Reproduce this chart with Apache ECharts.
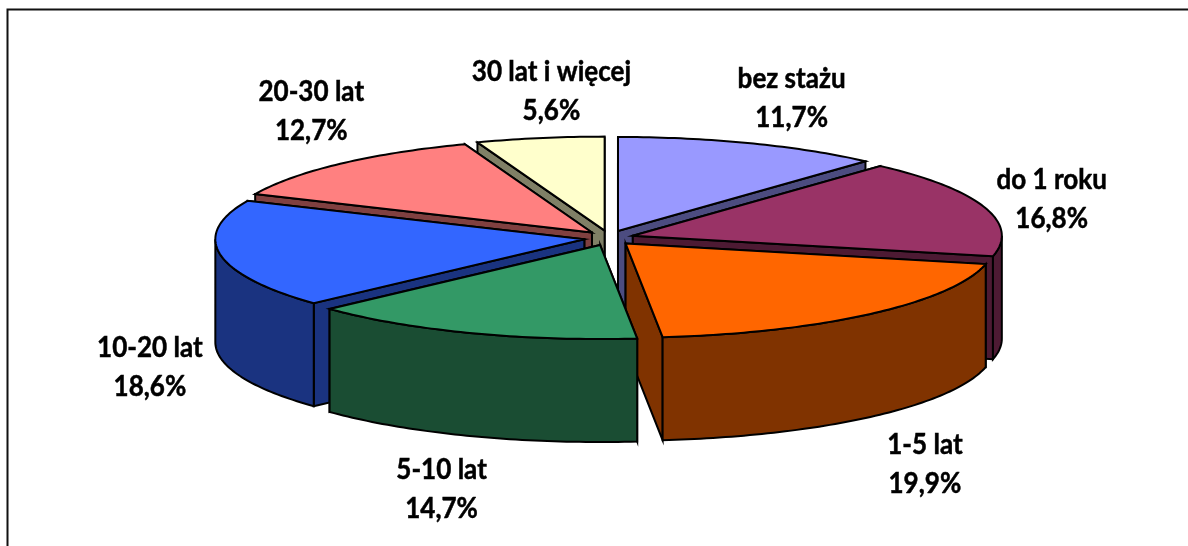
<!DOCTYPE html>
<html>
<head>
<meta charset="utf-8">
<style>
	html, body { margin: 0; padding: 0; background: #fff; }
	#chart { width: 1188px; height: 546px; }
</style>
</head>
<body>
<div id="chart"></div>
<script src="https://cdn.jsdelivr.net/npm/echarts@6/dist/echarts.min.js"></script>
<script>
	var categories = ['bez stażu', 'do 1 roku', '1-5 lat', '5-10 lat', '10-20 lat', '20-30 lat', '30 lat i więcej'];
	var percents = [11.7, 16.8, 19.9, 14.7, 18.6, 12.7, 5.6];
	var percentLabels = ['11,7%', '16,8%', '19,9%', '14,7%', '18,6%', '12,7%', '5,6%'];
	var topColors = ['#9999FF', '#993366', '#FF6600', '#339966', '#3366FF', '#FF8080', '#FFFFCC'];
	var sideColors = ['#4C4C80', '#4D1A33', '#803300', '#1A4D33', '#1A3380', '#804040', '#808066'];
	// label shift from the rim point of each slice
	var labelShifts = [[50, -52], [91, -10], [71, 156], [-37, 164], [-95, 114], [-46, -58], [7, -54]];

	// projection of the tilted pie
	var cx = 609, cy = 238, rx = 369, ry = 94, depth = 103;
	var explodeX = 25, explodeY = 7.5;

	var total = percents.reduce(function(a, b) { return a + b; }, 0);
	var slices = [];
	var sum = 0;
	percents.forEach(function(val, i) {
		var start = sum / total * 360;
		sum += val;
		var end = sum / total * 360;
		slices.push({ index: i, start: start, end: end, mid: (start + end) / 2 });
	});
	// back slices are painted first
	slices.sort(function(a, b) {
		return Math.cos(b.mid * Math.PI / 180) - Math.cos(a.mid * Math.PI / 180);
	});

	function rimPoint(ox, oy, deg, drop) {
		var r = deg * Math.PI / 180;
		return [ox + rx * Math.sin(r), oy - ry * Math.cos(r) + drop];
	}

	function arcPoints(ox, oy, from, to, drop) {
		var pts = [];
		var n = Math.max(2, Math.ceil(Math.abs(to - from)));
		for (var k = 0; k <= n; k++) {
			pts.push(rimPoint(ox, oy, from + (to - from) * k / n, drop));
		}
		return pts;
	}

	function poly(points, fill) {
		return {
			type: 'polygon',
			shape: { points: points },
			style: { fill: fill, stroke: '#000', lineWidth: 2, lineJoin: 'miter' }
		};
	}

	function renderSlice(params) {
		var s = slices[params.dataIndex];
		var i = s.index;
		var m = s.mid * Math.PI / 180;
		var ox = cx + explodeX * Math.sin(m);
		var oy = cy - explodeY * Math.cos(m);
		var side = sideColors[i];
		var children = [];

		// the two cut faces, the one further back first
		var faces = [s.start, s.end].sort(function(a, b) {
			return Math.cos(b * Math.PI / 180) - Math.cos(a * Math.PI / 180);
		});
		faces.forEach(function(a) {
			var p = rimPoint(ox, oy, a, 0);
			var q = rimPoint(ox, oy, a, depth);
			children.push(poly([[ox, oy], p, q, [ox, oy + depth]], side));
		});

		// outer wall, only the part facing the viewer
		var wallFrom = Math.max(s.start, 90);
		var wallTo = Math.min(s.end, 270);
		if (wallTo > wallFrom) {
			var wall = arcPoints(ox, oy, wallFrom, wallTo, 0)
				.concat(arcPoints(ox, oy, wallTo, wallFrom, depth));
			children.push(poly(wall, side));
		}

		// top surface
		children.push(poly([[ox, oy]].concat(arcPoints(ox, oy, s.start, s.end, 0)), topColors[i]));

		var rim = rimPoint(cx, cy, s.mid, 0);
		children.push({
			type: 'text',
			x: rim[0] + labelShifts[i][0],
			y: rim[1] + labelShifts[i][1],
			scaleX: 0.93,
			style: {
				x: 0,
				y: 0,
				text: categories[i] + '\n' + percentLabels[i],
				fill: '#000',
				stroke: '#000',
				lineWidth: 0.5,
				font: 'bold 28px Lato',
				lineHeight: 39,
				align: 'center',
				verticalAlign: 'middle'
			}
		});
		return { type: 'group', children: children };
	}

	var mychart = echarts.init(document.getElementById('chart'), null, { renderer: 'canvas' });
	mychart.setOption({
		backgroundColor: '#fff',
		animation: false,
		graphic: [{
			type: 'polyline',
			shape: { points: [[7.5, 546], [7.5, 9.5], [1188, 9.5]] },
			style: { fill: null, stroke: '#111', lineWidth: 2 }
		}],
		series: [{
			type: 'custom',
			coordinateSystem: 'none',
			silent: true,
			renderItem: renderSlice,
			data: slices.map(function(s) { return percents[s.index]; })
		}]
	});
</script>
</body>
</html>
